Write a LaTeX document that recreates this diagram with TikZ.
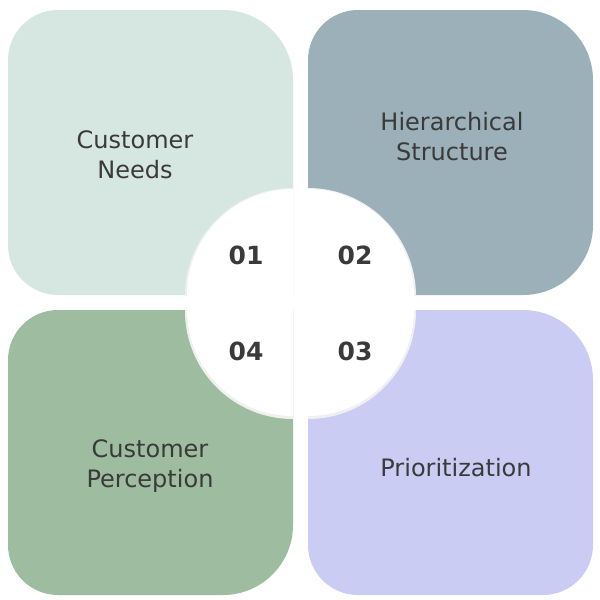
\documentclass[tikz,border=0pt]{standalone}
\usepackage{fontspec}
\setmainfont{DejaVu Sans}
\definecolor{needs}{HTML}{D6E7E1}
\definecolor{hier}{HTML}{9BB0B9}
\definecolor{perc}{HTML}{9EBC9F}
\definecolor{prio}{HTML}{CBCCF4}
\definecolor{txt}{HTML}{3A3A3A}
\begin{document}
\begin{tikzpicture}[x=1pt,y=-1pt,
    label/.style={font=\fontsize{24}{30}\selectfont, text=txt, align=center},
    num/.style={font=\bfseries\fontsize{25}{28}\selectfont, text=txt}]
  \useasboundingbox (0,0) rectangle (600,600);
  \fill[white] (0,0) rectangle (600,600);
  % tiles
  \fill[needs] (293,295) -- (293,80) [rounded corners=70] -- (293,10) [rounded corners=50] -- (8,10) -- (8,295) [sharp corners] -- cycle;
  \fill[hier] (308,295) -- (308,80) [rounded corners=50] -- (308,10) [rounded corners=70] -- (593,10) -- (593,295) [sharp corners] -- cycle;
  \fill[perc] (293,310) [rounded corners=50] -- (8,310) [rounded corners=50] -- (8,595) [rounded corners=70] -- (293,595) [sharp corners] -- (293,310) -- cycle;
  \fill[prio] (308,310) [rounded corners=70] -- (593,310) [rounded corners=50] -- (593,595) [rounded corners=50] -- (308,595) [sharp corners] -- (308,310) -- cycle;
  % quarter discs, with a faint shadow
  \foreach \cx/\cy/\dx/\dy in {293/295/-1/-1, 308/295/1/-1, 293/310/-1/1, 308/310/1/1}{
    \begin{scope}
      \clip (\cx,\cy) rectangle ({\cx+\dx*120},{\cy+\dy*120});
      \fill[black!6] (\cx,{\cy+1}) circle[radius=108];
      \fill[white] (\cx,\cy) circle[radius=106];
    \end{scope}
  }
  % numbers
  \node[num] (n1) at (246,255) {01};
  \node[num] (n2) at (355,255) {02};
  \node[num] (n4) at (246,351) {04};
  \node[num] (n3) at (355,351) {03};
  % labels
  \node[label] (needs) at (135,155) {Customer\\Needs};
  \node[label] (hier) at (452,137) {Hierarchical\\Structure};
  \node[label] (perc) at (150,466) {Customer\\Perception};
  \node[label] (prio) at (456,468) {Prioritization};
\end{tikzpicture}
\end{document}
